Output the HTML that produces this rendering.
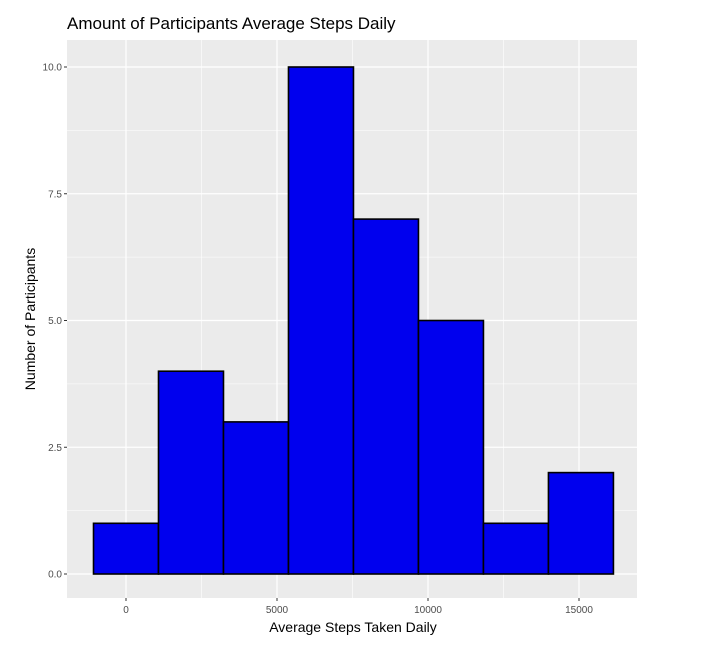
<!DOCTYPE html>
<html><head><meta charset="utf-8"><style>
body{margin:0;background:#fff;font-family:"Liberation Sans",sans-serif}
</style></head><body>
<svg id="chart" width="702" height="662" xmlns="http://www.w3.org/2000/svg" font-family="Liberation Sans, sans-serif">
<text x="67" y="29" font-size="17" fill="#000">Amount of Participants Average Steps Daily</text>
<rect x="67" y="40" width="570" height="558" fill="#ebebeb"/>
<g id="grid"></g><g id="bars"></g><g id="axes"></g>
<text x="353" y="632" font-size="14" text-anchor="middle" fill="#000">Average Steps Taken Daily</text>
<text transform="translate(35,319) rotate(-90)" font-size="14" text-anchor="middle" fill="#000">Number of Participants</text>
</svg>
<script>
const binCenters=[0,2152,4304,6456,8608,10760,12912,15064];
const counts=[1,4,3,10,7,5,1,2];
const binWidth=2152;
const xTicks=[0,5000,10000,15000];
const xMinor=[-2500,2500,7500,12500];
const yTicks=[0,2.5,5,7.5,10];
const yTickLabels=["0.0","2.5","5.0","7.5","10.0"];
const yMinor=[1.25,3.75,6.25,8.75];
const PX0=67,PX1=637,PY0=40,PY1=598;
const xs=v=>126+(v/5000)*151;
const ys=v=>574-(v/10)*507;
const NS="http://www.w3.org/2000/svg";
function mk(tag,at,parent){const e=document.createElementNS(NS,tag);for(const k in at)e.setAttribute(k,at[k]);parent.appendChild(e);return e;}
const g=document.getElementById('grid'),b=document.getElementById('bars'),a=document.getElementById('axes');
xMinor.forEach(v=>{const x=xs(v);if(x<PX0||x>PX1)return;const l=mk('line',{x1:x,x2:x,y1:PY0,y2:PY1,stroke:'#fff','stroke-width':0.6},g);

});
yMinor.forEach(v=>{const y=ys(v);const l=mk('line',{x1:PX0,x2:PX1,y1:y,y2:y,stroke:'#fff','stroke-width':0.6},g);

});
xTicks.forEach(v=>{const x=xs(v);const l=mk('line',{x1:x,x2:x,y1:PY0,y2:PY1,stroke:'#fff','stroke-width':1.2},g);


const t=mk('line',{x1:x,x2:x,y1:PY1,y2:PY1+3,stroke:'#333','stroke-width':1},a);


const tx=mk('text',{x:x,y:PY1+15,'font-size':10,'text-anchor':'middle',fill:'#4d4d4d'},a);tx.textContent=v;

});
yTicks.forEach((v,i)=>{const y=ys(v);const l=mk('line',{x1:PX0,x2:PX1,y1:y,y2:y,stroke:'#fff','stroke-width':1.2},g);


const t=mk('line',{x1:PX0-3,x2:PX0,y1:y,y2:y,stroke:'#333','stroke-width':1},a);


const tx=mk('text',{x:PX0-5,y:y+3.5,'font-size':10,'text-anchor':'end',fill:'#4d4d4d'},a);tx.textContent=yTickLabels[i];

});
binCenters.forEach((c,i)=>{const x0=xs(c-binWidth/2),x1=xs(c+binWidth/2),y=ys(counts[i]);
const r=mk('rect',{x:x0,y:y,width:x1-x0,height:ys(0)-y,fill:'#0000ee',stroke:'#000','stroke-width':1.6},b);

});
</script>
</body></html>
